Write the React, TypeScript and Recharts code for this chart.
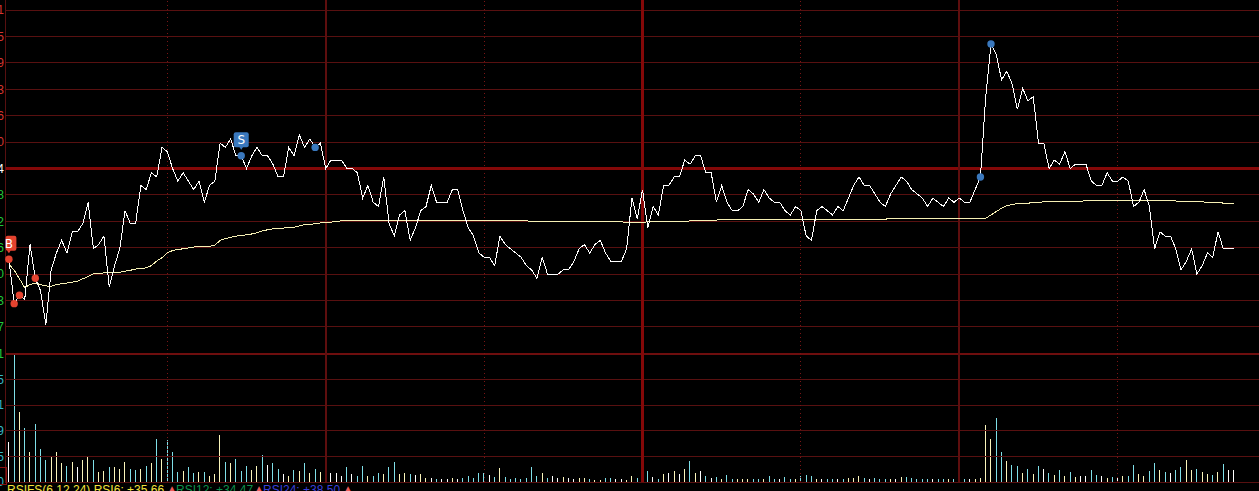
import React from "react";
import { ComposedChart, Line, Bar, Cell, XAxis, YAxis, ReferenceLine, ReferenceDot } from "recharts";

const priceValues = [
  9.825,9.72,9.74,9.73,9.86,9.78,9.75,9.67,9.80,9.84,
  9.87,9.84,9.89,9.89,9.91,9.96,9.85,9.86,9.88,9.76,
  9.81,9.85,9.94,9.91,9.91,10.00,9.99,10.03,10.02,10.09,
  10.08,10.04,10.01,10.03,10.01,9.99,10.01,9.96,10.00,10.01,
  10.10,10.09,10.11,10.07,10.07,10.04,10.07,10.09,10.07,10.07,
  10.05,10.02,10.02,10.09,10.07,10.12,10.09,10.11,10.09,10.10,
  10.04,
  10.06,10.06,10.06,10.04,10.04,10.03,9.97,10.00,9.96,9.95,
  10.02,9.91,9.88,9.93,9.94,9.87,9.90,9.94,9.95,10.00,
  9.96,9.96,9.96,9.99,9.99,9.94,9.90,9.88,9.84,9.83,
  9.83,9.81,9.88,9.86,9.85,9.84,9.83,9.81,9.80,9.78,
  9.83,9.79,9.79,9.79,9.80,9.80,9.82,9.85,9.86,9.84,
  9.86,9.87,9.84,9.82,9.82,9.82,9.85,9.97,9.92,9.99,
  9.90,
  9.95,9.93,10.00,10.00,10.02,10.02,10.06,10.05,10.07,10.07,
  10.03,10.03,9.96,10.00,9.96,9.94,9.94,9.95,9.99,9.98,
  9.96,9.99,9.97,9.96,9.96,9.94,9.93,9.95,9.94,9.88,
  9.87,9.94,9.95,9.94,9.93,9.95,9.94,9.97,10.00,10.02,
  10.00,10.00,9.98,9.96,9.95,9.98,10.00,10.02,10.01,9.99,
  9.98,9.97,9.95,9.97,9.96,9.95,9.97,9.96,9.97,9.96,
  9.96,9.99,10.02,
  10.21,10.335,10.31,10.25,10.27,10.24,
  10.18,10.23,10.20,10.21,10.10,10.10,10.04,10.06,10.05,10.08,
  10.04,10.05,10.05,10.05,10.01,10.00,10.00,10.03,10.01,10.01,
  10.02,10.01,9.95,9.96,9.99,9.95,9.85,9.89,9.88,9.88,
  9.85,9.80,9.82,9.85,9.79,9.81,9.84,9.83,9.89,9.85,
  9.85,9.85,
];

const averageValues = [
  9.814,9.799,9.779,9.758,9.765,9.769,9.765,9.762,9.761,9.765,
  9.767,9.769,9.771,9.773,9.779,9.784,9.791,9.791,9.793,9.794,
  9.794,9.794,9.797,9.799,9.802,9.803,9.805,9.810,9.821,9.829,
  9.840,9.846,9.848,9.850,9.852,9.854,9.855,9.855,9.856,9.858,
  9.870,9.874,9.877,9.880,9.881,9.883,9.885,9.888,9.892,9.895,
  9.897,9.898,9.899,9.900,9.901,9.904,9.907,9.908,9.909,9.911,
  9.911,9.913,
  9.915,9.916,9.916,9.917,9.917,9.917,9.917,9.917,9.917,9.918,
  9.918,9.918,9.918,9.918,9.918,9.918,9.918,9.918,9.918,9.918,
  9.918,9.918,9.918,9.918,9.918,9.918,9.918,9.918,
  9.916,9.916,9.916,9.916,9.916,9.916,9.916,9.916,9.916,
  9.915,9.915,9.915,
  9.914,9.914,9.914,9.914,9.914,9.914,9.914,9.914,9.914,9.914,9.914,9.914,9.914,9.914,9.914,
  9.911,9.911,9.911,9.912,
  9.914,9.914,9.914,9.914,9.914,9.914,9.914,9.914,
  9.916,9.916,9.918,9.918,9.918,9.918,
  9.920,9.920,9.920,9.920,9.920,9.920,9.920,9.920,9.920,9.920,
  9.920,9.920,9.920,9.920,9.920,9.920,9.920,9.920,9.920,9.920,
  9.920,9.920,9.920,9.920,9.920,9.920,9.920,9.920,9.920,9.920,9.920,9.920,
  9.922,9.922,9.922,9.922,9.922,9.922,9.922,9.922,9.922,9.922,
  9.922,9.922,9.922,9.922,9.922,9.922,9.922,9.922,9.922,
  9.930,9.938,9.946,9.952,9.955,9.957,9.958,9.958,9.959,9.960,
  9.961,9.962,9.962,9.962,9.962,9.962,9.962,9.962,9.964,
  9.965,9.965,9.965,9.965,9.965,9.965,9.965,9.965,9.965,9.965,
  9.965,9.965,9.965,9.965,9.965,9.965,
  9.963,9.963,9.963,9.961,9.961,9.961,9.960,9.960,9.960,9.958,9.958,9.958,9.956,
];

const volumeValues = [
  69,221,121,92,52,99,56,38,45,52,33,28,35,26,37,45,38,18,19,25,
  25,23,35,23,21,23,28,33,74,40,73,52,18,19,26,16,18,18,11,14,
  80,35,33,40,19,28,21,28,47,30,32,23,14,11,21,19,33,16,23,18,
  21,16,16,11,26,14,11,28,11,11,16,13,25,35,14,
  15,14,12,14,7,7,5,5,5,7,
  5,7,10,7,15,15,12,9,24,9,
  5,7,5,7,26,10,15,7,10,7,
  9,7,5,7,7,5,3,3,7,7,
  5,5,3,10,7,10,19,9,5,14,
  15,19,14,22,36,15,19,10,7,9,
  5,12,5,5,5,5,5,5,5,10,
  5,5,9,5,5,10,12,10,5,5,
  5,
  5,5,5,7,7,10,7,5,7,5,
  5,5,5,9,9,7,5,5,5,5,
  5,5,5,5,5,5,5,5,7,98,
  74,110,52,36,29,28,15,22,14,28,
  22,15,12,21,10,17,9,10,10,21,
  12,10,7,9,9,10,10,29,14,10,
  19,33,21,17,15,21,26,38,21,22,
  17,14,12,17,31,21,21,
];

const morningTones = "WCYCYCCCYYYCYWYYCYYCYYYCCYCYCYCCCYCCYCYYYCYCCCYYCWCCWYCYCYCYCWWWCWCCYCCYCCY";
const middayTones = "YCWYYWCWWYWCCCCCWCYCCCCCCCYCWWYWWYYCYYCCWWYYCYCWCYWYWYCYWCWCYCCYYYCCYCCWCCYCCCYWC";
const closingTones = "CWCYYYCWCCCYWYCCCCCWCCYCWCWYYYYCCYCCYCYCWCYCYCYWWCCWYCWYCCYYCCYCWCCYYCYYCYCWW";
const volumeTones = morningTones + middayTones + closingTones;

const priceTicks = [10.415,10.3525,10.29,10.2275,10.165,10.1025,10.04,9.9775,9.915,9.8525,9.79,9.7275,9.665];
const priceLabels = ["10.41","10.35","10.29","10.23","10.16","10.10","10.04","9.98","9.92","9.86","9.80","9.73","9.67"];
const volumeTicks = [0,44,88,132,176,220];
const volumeLabels = ["0","45","89","131","175","221"];

const dashedHours = [30,90,150,210];
const solidHours = [60,180];
const noonHour = 120;
const buyPoints = [0,1,2,5];
const sellPoints = [44,58,184,186];

const rows = priceValues.map((price, i) => ({
  i,
  price,
  average: averageValues[i],
  volume: volumeValues[i],
  buy: buyPoints.includes(i) ? price : null,
  sell: sellPoints.includes(i) ? price : null,
}));

const GRID = "#581010";
const THICK = "#840808";
const crisp = { shapeRendering: "crispEdges" } as any;
const toneColor: Record<string, string> = { C: "#7fdfe8", Y: "#fbf5bb", W: "#ffffff" };

const axisLabel = (value: string, fill: string) => ({
  value,
  position: "left" as const,
  offset: 1,
  fill,
  fontSize: 12,
  fontFamily: "Liberation Sans",
});

const badge = (label: string, color: string, left: number) => (p: any) => {
  const cx = p.cx;
  const cy = p.cy - 16;
  const x0 = Math.max(cx - 7.5, left);
  return (
    <g>
      <rect x={x0} y={cy - 7.5} width={cx + 7.5 - x0} height={15} rx={2} fill={color} />
      <path d={`M${cx - 2} ${cy + 7} L${cx} ${cy + 10} L${cx + 2} ${cy + 7} Z`} fill={color} />
      <text x={cx} y={cy + 4.5} textAnchor="middle" fontSize={12} fontFamily="DejaVu Sans" fill="#ffffff">{label}</text>
    </g>
  );
};

const thinBar = (p: any) => (
  <rect x={Math.round(p.x + p.width / 2 - 0.5)} y={p.y} width={1} height={p.height} fill={p.fill} shapeRendering="crispEdges" />
);

const legendStyle: React.CSSProperties = { position: "absolute", top: 483, whiteSpace: "nowrap", fontFamily: "Liberation Sans", fontSize: 12, lineHeight: "15px" };
const arrowStyle: React.CSSProperties = { ...legendStyle, color: "#f05a5a", fontSize: 10, top: 481 };

export default function App() {
  return (
    <div style={{ position: "fixed", left: 0, top: 0, width: 1259, height: 491, background: "#000", overflow: "hidden" }}>
      <ComposedChart width={1259} height={491} data={rows} margin={{ top: 0, right: 0, bottom: 9, left: 5 }}>
        <XAxis dataKey="i" type="number" hide domain={[-0.7386, 236.76]} />
        <YAxis yAxisId="price" hide domain={[9.2978, 10.4389]} />
        <YAxis yAxisId="volume" hide domain={[0, 828.5]} />

        {priceTicks.map((t, k) => (
          <ReferenceLine key={t} yAxisId="price" y={t} stroke={t === 10.04 ? THICK : GRID} strokeWidth={t === 10.04 ? 3 : 1} {...crisp}
            label={axisLabel(priceLabels[k], k < 6 ? "#d8352f" : k === 6 ? "#ffffff" : "#22c83a")} />
        ))}
        {volumeTicks.map((t, k) => (
          <ReferenceLine key={t} yAxisId="volume" y={t} stroke={t === 220 ? "#6e0e0e" : GRID} strokeWidth={t === 220 ? 2 : 1} {...crisp}
            label={axisLabel(volumeLabels[k], k === 5 ? "#22c83a" : "#35b8c8")} />
        ))}
        <ReferenceLine yAxisId="price" x={-0.65} stroke={GRID} {...crisp} />
        {dashedHours.map((h) => (
          <ReferenceLine key={h} yAxisId="price" x={h} stroke="#7a1515" strokeDasharray="1 3" {...crisp} />
        ))}
        {solidHours.map((h) => (
          <ReferenceLine key={h} yAxisId="price" x={h} stroke="#5e0e0e" strokeWidth={2} {...crisp} />
        ))}
        <ReferenceLine yAxisId="price" x={noonHour} stroke={THICK} strokeWidth={3} {...crisp} />

        <Bar yAxisId="volume" dataKey="volume" barSize={1} isAnimationActive={false} shape={thinBar}>
          {rows.map((r) => (
            <Cell key={r.i} fill={toneColor[volumeTones[r.i]] ?? toneColor.Y} />
          ))}
        </Bar>
        <Line yAxisId="price" dataKey="average" stroke="#f6f0b4" strokeWidth={1} dot={false} isAnimationActive={false} {...crisp} />
        <Line yAxisId="price" dataKey="price" stroke="#ffffff" strokeWidth={1} dot={false} isAnimationActive={false} {...crisp} />
        <Line yAxisId="price" dataKey="buy" stroke="none" dot={{ r: 3.7, fill: "#e4432f", stroke: "none" }} isAnimationActive={false} />
        <Line yAxisId="price" dataKey="sell" stroke="none" dot={{ r: 3.7, fill: "#3a78bd", stroke: "none" }} isAnimationActive={false} />
        <ReferenceDot yAxisId="price" x={0} y={priceValues[0]} shape={badge("B", "#e4432f", 5.7)} />
        <ReferenceDot yAxisId="price" x={44} y={priceValues[44]} shape={badge("S", "#3a78bd", 0)} />
      </ComposedChart>
      <div style={{ position: "absolute", left: -2, top: 467, width: 7, height: 16, border: "1px solid #8a1010" }} />
      <span style={{ ...legendStyle, left: 7, color: "#f2e23c" }}>RSIFS(6,12,24) RSI6: +35.66</span>
      <span style={{ ...arrowStyle, left: 167 }}>▲</span>
      <span style={{ ...legendStyle, left: 176, color: "#0e8f4c" }}>RSI12: +34.47</span>
      <span style={{ ...arrowStyle, left: 254 }}>▲</span>
      <span style={{ ...legendStyle, left: 263, color: "#3a3fd8" }}>RSI24: +38.50</span>
      <span style={{ ...arrowStyle, left: 343 }}>▲</span>
    </div>
  );
}
